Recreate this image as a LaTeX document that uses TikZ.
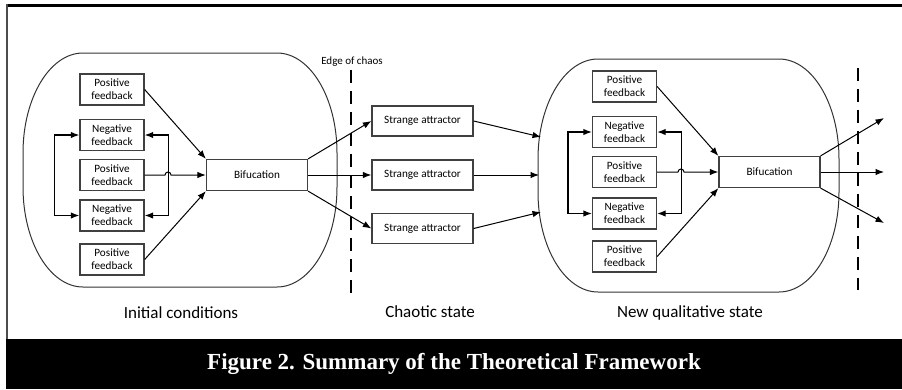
\documentclass[tikz,border=0pt]{standalone}
\usepackage{fontspec}
\setmainfont{Carlito}
\newfontfamily\capfont{Liberation Serif}
\usetikzlibrary{arrows.meta}

\begin{document}
\begin{tikzpicture}[x=1pt,y=-1pt,
  fbox/.style={draw=black!75, line width=1.3pt, fill=white, minimum width=64pt,
    minimum height=31pt, inner sep=0pt, align=center,
    font=\fontsize{11.2}{13.2}\selectfont},
  sabox/.style={fbox, minimum width=101pt, minimum height=30pt},
  bifbox/.style={fbox, minimum width=101pt, minimum height=31pt},
  tip/.style={-{Latex[length=8.5pt,width=6.5pt]}},
  link/.style={draw=black, line width=1pt, tip},
  twoway/.style={draw=black, line width=1.3pt,
    {Latex[length=8.5pt,width=6.5pt]}-{Latex[length=8.5pt,width=6.5pt]}},
  container/.style={draw=black!80, line width=1pt},
  chaosedge/.style={draw=black, line width=2.2pt, dash pattern=on 13pt off 8pt},
  stage/.style={font=\fontsize{17}{20}\selectfont},
  small/.style={font=\fontsize{11}{13}\selectfont},
]
\useasboundingbox (0,0) rectangle (902,389);

% frame and caption band
\draw[line width=3pt] (6,5.5) -- (902,5.5);
\draw[line width=2.5pt, black!70] (7,4) -- (7,339);
\fill[black] (6,339) rectangle (902,389);
\node[text=white, font=\capfont\bfseries\fontsize{23}{26}\selectfont] (caption) at (454,364)
  {Figure 2. Summary of the Theoretical Framework};

% containers (stadium outlines)
\draw[container] (83,53) -- (277,53)
  arc[start angle=-90,end angle=0,x radius=60,y radius=100] -- (337,187)
  arc[start angle=0,end angle=90,x radius=60,y radius=100] -- (83,287)
  arc[start angle=90,end angle=180,x radius=60,y radius=100] -- (23,153)
  arc[start angle=180,end angle=270,x radius=60,y radius=100] -- cycle;
\draw[container] (598,59) -- (779,59)
  arc[start angle=-90,end angle=0,x radius=60,y radius=100] -- (839,192)
  arc[start angle=0,end angle=90,x radius=60,y radius=100] -- (598,292)
  arc[start angle=90,end angle=180,x radius=60,y radius=100] -- (538,159)
  arc[start angle=180,end angle=270,x radius=60,y radius=100] -- cycle;

% edges of chaos
\draw[chaosedge] (351,70) -- (351,293);
\draw[chaosedge] (858,68) -- (858,290);
\node[small] (edgelabel) at (352,62) {Edge of chaos};

% initial conditions
\node[fbox] (pfa) at (112,89.5) {Positive\\feedback};
\node[fbox] (nfa) at (112,135) {Negative\\feedback};
\node[fbox] (pfb) at (112,175) {Positive\\feedback};
\node[fbox] (nfb) at (112,215.5) {Negative\\feedback};
\node[fbox] (pfc) at (112,259.5) {Positive\\feedback};
\node[bifbox] (bifa) at (257,175) {Bifucation};
\coordinate (hopa) at (168,175);

\draw[twoway] (nfa.west) -- ++(-25,0) |- (nfb.west);
\draw[twoway] (nfa.east) -- ++(24,0) |- (nfb.east);
\draw[link] (pfa.east) -- (bifa.north west);
\draw[link] (pfc.east) -- (bifa.south west);
\draw[link] (pfb.east) -- ([xshift=-3pt]hopa) arc[start angle=180,end angle=360,radius=3] -- (bifa.west);

% chaotic state
\node[sabox] (saa) at (422.5,121) {Strange attractor};
\node[sabox] (sab) at (422.5,175) {Strange attractor};
\node[sabox] (sac) at (422.5,228.5) {Strange attractor};
\draw[link] (bifa.north east) -- (saa.west);
\draw[link] (bifa.east) -- (sab.west);
\draw[link] (bifa.south east) -- (sac.west);

\coordinate (ina) at (541,137);
\coordinate (inb) at (539,175);
\coordinate (inc) at (541,212);
\draw[link] (saa.east) -- (ina);
\draw[link] (sab.east) -- (inb);
\draw[link] (sac.east) -- (inc);

% new qualitative state
\node[fbox] (pfd) at (624.5,86.5) {Positive\\feedback};
\node[fbox] (nfd) at (624.5,132) {Negative\\feedback};
\node[fbox] (pfe) at (624.5,172) {Positive\\feedback};
\node[fbox] (nfe) at (624.5,213.5) {Negative\\feedback};
\node[fbox] (pff) at (624.5,256.5) {Positive\\feedback};
\node[bifbox] (bifb) at (769.5,172) {Bifucation};
\coordinate (hopb) at (681,172);

\draw[twoway] (nfd.west) -- ++(-24,0) |- (nfe.west);
\draw[twoway] (nfd.east) -- ++(24,0) |- (nfe.east);
\draw[link] (pfd.east) -- (bifb.north west);
\draw[link] (pff.east) -- (bifb.south west);
\draw[link] (pfe.east) -- ([xshift=-3pt]hopb) arc[start angle=180,end angle=360,radius=3] -- (bifb.west);

\coordinate (outa) at (884,118);
\coordinate (outb) at (884,172);
\coordinate (outc) at (884,223);
\draw[link] (bifb.north east) -- (outa);
\draw[link] (bifb.east) -- (outb);
\draw[link] (bifb.south east) -- (outc);

% stage labels
\node[stage] (initial) at (181,313) {Initial conditions};
\node[stage] (chaotic) at (430,312) {Chaotic state};
\node[stage] (newstate) at (690,313) {New qualitative state};
\end{tikzpicture}
\end{document}
